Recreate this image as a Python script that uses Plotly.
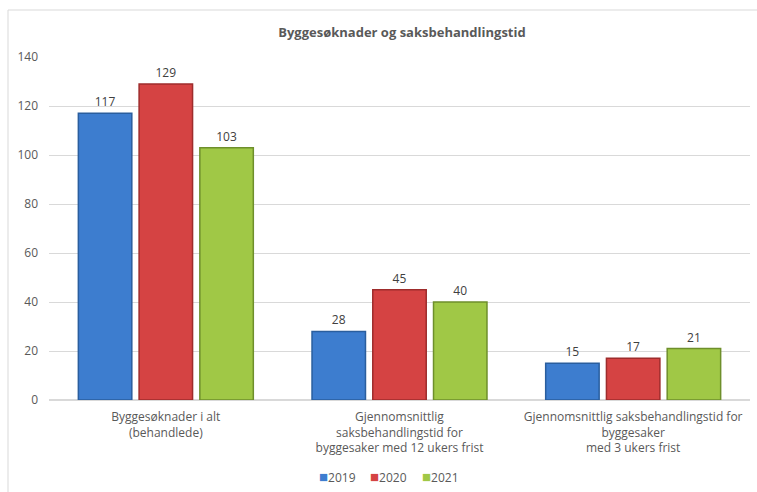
import plotly.graph_objects as go

# Kategorier og verdier
categories = [
    "Byggesøknader i alt<br>(behandlede)",
    "Gjennomsnittlig<br>saksbehandlingstid for<br>byggesaker med 12 ukers frist",
    "Gjennomsnittlig saksbehandlingstid for<br>byggesaker<br>med 3 ukers frist",
]
years = ["2019", "2020", "2021"]
values_2019 = [117, 28, 15]
values_2020 = [129, 45, 17]
values_2021 = [103, 40, 21]

fill_colors = ["#3d7dcf", "#d54343", "#a0c846"]
edge_colors = ["#2a5e9e", "#9e2c2c", "#6e8f2b"]

fig = go.Figure()
for year, vals, fc, ec in zip(years, [values_2019, values_2020, values_2021], fill_colors, edge_colors):
    fig.add_trace(go.Bar(
        x=categories, y=vals, name=year,
        marker=dict(color=fc, line=dict(color=ec, width=1.5)),
        text=vals, textposition="outside",
        textfont=dict(size=12, color="#404040"),
        cliponaxis=False,
    ))

fig.update_layout(
    width=757, height=492,
    paper_bgcolor="white", plot_bgcolor="white",
    font=dict(family="Open Sans", size=11, color="#595959"),
    title=dict(text="<b>Byggesøknader og saksbehandlingstid</b>", x=0.531, y=1 - 32 / 492,
               xanchor="center", yanchor="middle", font=dict(size=13, color="#595959")),
    margin=dict(l=49, r=7, t=57, b=92, autoexpand=False),
    barmode="group", bargap=0.22, bargroupgap=0.12,
    showlegend=False,
)
fig.update_yaxes(range=[0, 140], dtick=20, showgrid=True, gridcolor="#d9d9d9",
                 zeroline=True, zerolinecolor="#d9d9d9", ticks="", ticklabelstandoff=10,
                 automargin=False, tickfont=dict(size=12))
fig.update_xaxes(showline=False, ticks="", tickfont=dict(size=12), ticklabelstandoff=8,
                 automargin=False)

# legend as small coloured squares
leg_x = [0.412, 0.485, 0.558]
for year, fc, lx in zip(years, fill_colors, leg_x):
    fig.add_annotation(xref="paper", yref="paper", x=lx, y=(400 - 476) / 343,
                       text=f"<span style='color:{fc};font-size:15px'>■</span>{year}",
                       showarrow=False, xanchor="center", yanchor="middle",
                       font=dict(size=12, color="#595959"))

# chart border
fig.add_shape(type="rect", xref="paper", yref="paper",
              x0=(8 - 49) / 701, x1=1.05, y0=-0.4, y1=(400 - 10) / 343,
              line=dict(color="#d9d9d9", width=1), layer="below")

fig.write_html("out.html", config={"displayModeBar": False},
               post_script="document.body.style.margin='0';")
